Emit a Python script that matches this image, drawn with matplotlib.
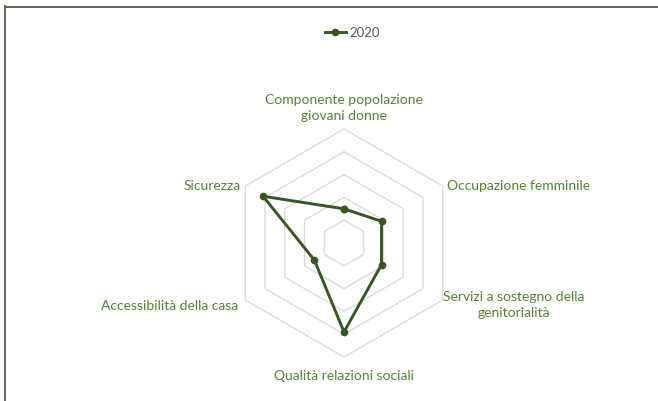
import numpy as np
import matplotlib
matplotlib.use("Agg")
import matplotlib.pyplot as plt
from matplotlib.lines import Line2D

plt.rcParams['font.family'] = ['Lato', 'DejaVu Sans']

# data (scale 0-5)
categories = ['Componente popolazione\ngiovani donne', 'Occupazione femminile',
              'Servizi a sostegno della\ngenitorialità', 'Qualità relazioni sociali',
              'Accessibilità della casa', 'Sicurezza']
values_2020 = [1.5, 1.9, 1.9, 3.9, 1.5, 4.1]
series_name = '2020'
rings = [1, 2, 3, 4, 5]

COL_LINE = '#375623'
COL_TEXT = '#548235'
COL_GRID = '#d9d9d9'

W, H = 658, 401
cx, cy = 344, 158          # centre of radar in pixels (from bottom)
unit = 22.8                # pixels per value unit

fig = plt.figure(figsize=(W / 100, H / 100), dpi=100)
ax = fig.add_axes([0, 0, 1, 1])
ax.set_xlim(-cx / unit, (W - cx) / unit)
ax.set_ylim(-cy / unit, (H - cy) / unit)
ax.axis('off')

n = len(categories)
ang = np.arange(n) * 2 * np.pi / n
sx, sy = np.sin(ang), np.cos(ang)

# hexagonal grid
for r in rings:
    ax.plot(np.append(r * sx, r * sx[0]), np.append(r * sy, r * sy[0]),
            color=COL_GRID, lw=0.9, zorder=1)

# series
v = np.array(values_2020)
ax.plot(np.append(v * sx, v[0] * sx[0]), np.append(v * sy, v[0] * sy[0]),
        color=COL_LINE, lw=2.1, marker='o', ms=4.5, zorder=3)

# category labels
R = rings[-1]
fs = 10
ax.text(0, R + 0.3, categories[0], ha='center', va='bottom', fontsize=fs,
        color=COL_TEXT, linespacing=1.4)
ax.text(R * sx[1] + 0.2, R * sy[1], categories[1], ha='left', va='center',
        fontsize=fs, color=COL_TEXT)
ax.text(R * sx[2] + 0.02, R * sy[2] + 0.4, categories[2], ha='left', va='top',
        fontsize=fs, color=COL_TEXT, multialignment='center', linespacing=1.4)
ax.text(0, -R - 0.55, categories[3], ha='center', va='top', fontsize=fs,
        color=COL_TEXT)
ax.text(R * sx[4] - 0.3, R * sy[4] - 0.25, categories[4], ha='right', va='center',
        fontsize=fs, color=COL_TEXT)
ax.text(R * sx[5] - 0.2, R * sy[5], categories[5], ha='right', va='center',
        fontsize=fs, color=COL_TEXT)

# legend
handle = Line2D([], [], color=COL_LINE, lw=2.1, marker='o', ms=4.5)
fig.legend([handle], [series_name], loc='center', bbox_to_anchor=(352 / W, 1 - 33 / H),
           frameon=False, fontsize=9.5, handlelength=1.6, handletextpad=0.25,
           labelcolor='#595959')

# chart border (left and top only visible)
fig.add_artist(Line2D([4.5 / W, 4.5 / W], [0, 1 - 6 / H], transform=fig.transFigure,
                      color='#4d5e45', lw=1.3))
fig.add_artist(Line2D([4.5 / W, 1], [1 - 6.5 / H, 1 - 6.5 / H], transform=fig.transFigure,
                      color='#4d5e45', lw=1.3))

fig.savefig('out.png', dpi=100)
